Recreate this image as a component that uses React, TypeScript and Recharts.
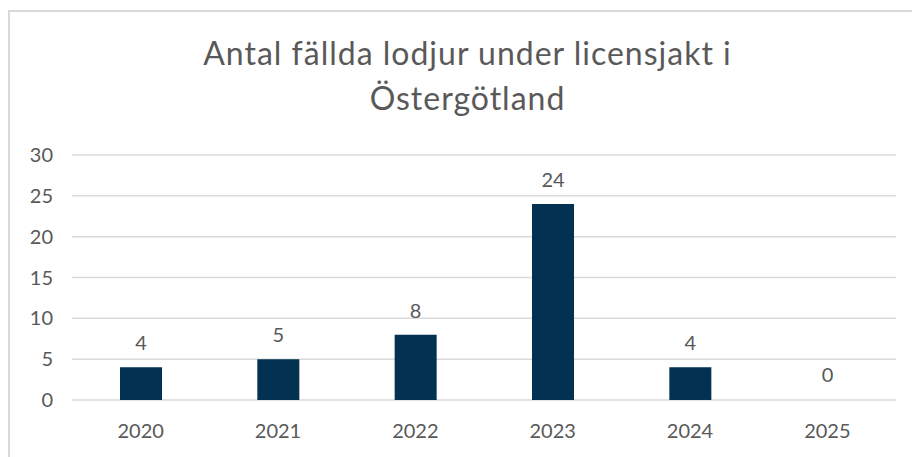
import { BarChart, Bar, XAxis, YAxis, CartesianGrid, LabelList, Cell } from 'recharts';

const years = ['2020', '2021', '2022', '2023', '2024', '2025'];
const killed = [4, 5, 8, 24, 4, 0];
const yTicks = [0, 5, 10, 15, 20, 25, 30];

const data = years.map((year, i) => ({ year, killed: killed[i] }));

const FONT = 'Lato, sans-serif';
const TEXT = '#595959';
const BAR = '#023152';

export default function App() {
  return (
    <div
      style={{
        position: 'absolute',
        left: 8,
        top: 10,
        width: 904,
        height: 447,
        borderLeft: '2px solid #d9d9d9',
        borderTop: '2px solid #d9d9d9',
        background: '#fff',
        fontFamily: FONT,
      }}
    >
      <div
        style={{
          position: 'absolute',
          left: 0,
          top: 18,
          width: 915,
          textAlign: 'center',
          fontSize: 32,
          letterSpacing: 1,
          lineHeight: '45px',
          color: TEXT,
        }}
      >
        Antal fällda lodjur under licensjakt i
        <br />
        Östergötland
      </div>
      <BarChart
        width={902}
        height={445}
        data={data}
        margin={{ top: 143, right: 16, left: 0, bottom: 27 }}
      >
        <CartesianGrid vertical={false} stroke="#d9d9d9" strokeWidth={1.5} />
        <XAxis
          dataKey="year"
          height={30}
          axisLine={false}
          tickLine={false}
          tickSize={0}
          tickMargin={24}
          tick={{ fill: TEXT, fontSize: 20, fontFamily: FONT }}
        />
        <YAxis
          width={62}
          domain={[0, 30]}
          ticks={yTicks}
          axisLine={false}
          tickLine={false}
          tickSize={0}
          tickMargin={19}
          tick={{ fill: TEXT, fontSize: 20, fontFamily: FONT }}
        />
        <Bar dataKey="killed" fill={BAR} barSize={42} minPointSize={1} isAnimationActive={false}>
          {data.map((d) => (
            <Cell key={d.year} fill={d.killed === 0 ? 'transparent' : BAR} />
          ))}
          <LabelList
            dataKey="killed"
            position="top"
            offset={17}
            fill={TEXT}
            fontSize={20}
            fontFamily={FONT}
          />
        </Bar>
      </BarChart>
    </div>
  );
}
